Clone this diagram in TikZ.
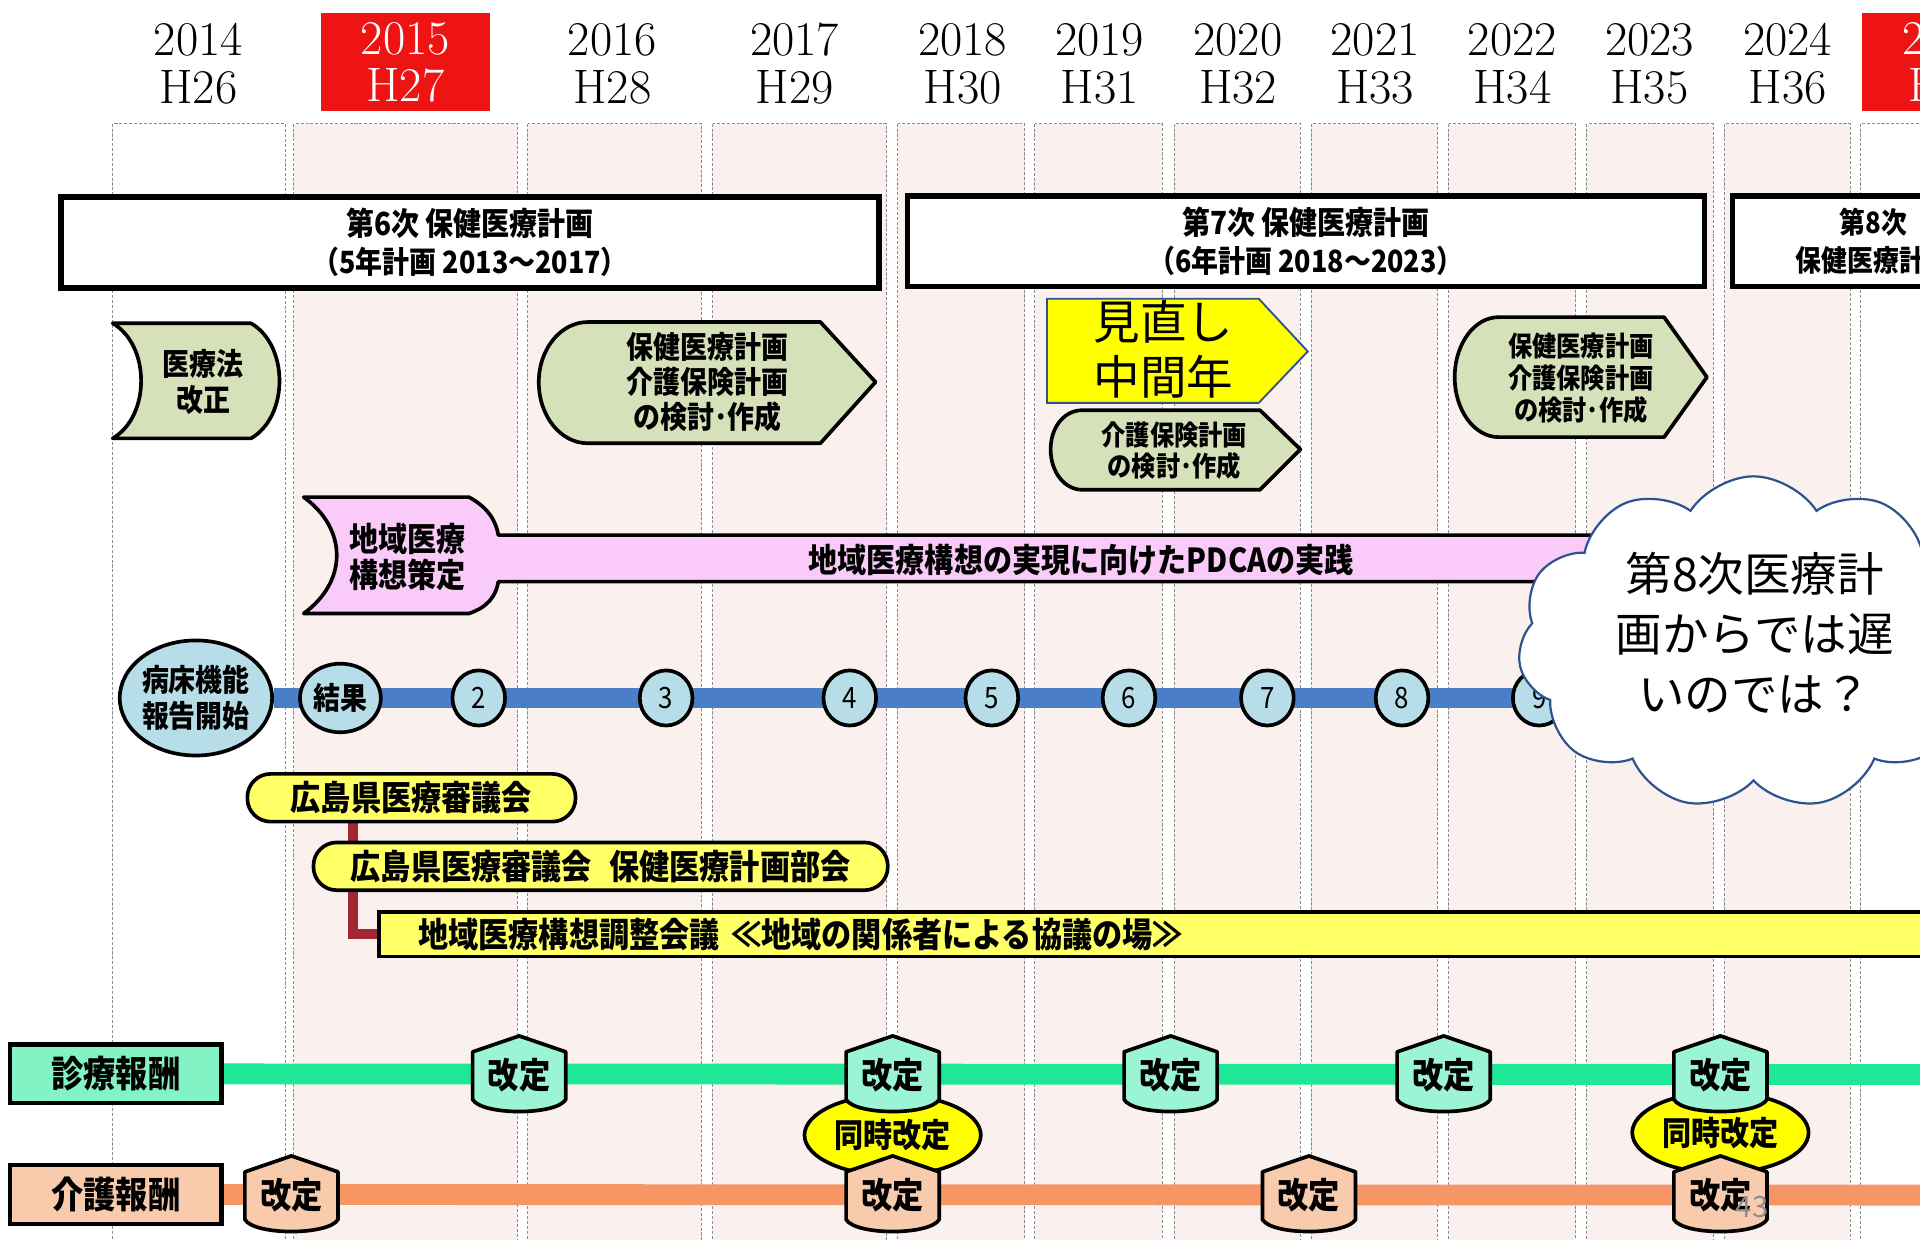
\documentclass[tikz,border=0pt]{standalone}
\usepackage{fontspec}
\usetikzlibrary{shapes.symbols,shapes.geometric,calc}
\newfontfamily\jpb{Noto Sans CJK JP}[FakeStretch=0.88]
\newfontfamily\jpr{Noto Sans CJK JP}
\newcommand\Bf[2]{\jpb\bfseries\fontsize{#1}{#2}\selectfont}
\newcommand\Rf[2]{\jpb\fontsize{#1}{#2}\selectfont}
\newcommand\Nf[2]{\jpr\fontsize{#1}{#2}\selectfont}
\definecolor{colpink}{RGB}{250,241,239}
\definecolor{hdrred}{RGB}{238,20,20}
\definecolor{olivelt}{RGB}{214,225,186}
\definecolor{pinklt}{RGB}{250,202,248}
\definecolor{circblue}{RGB}{183,222,232}
\definecolor{barblue}{RGB}{74,126,198}
\definecolor{meety}{RGB}{255,255,102}
\definecolor{pureY}{RGB}{255,255,0}
\definecolor{edgeblue}{RGB}{47,82,143}
\definecolor{maroonl}{RGB}{160,40,50}
\definecolor{labgreen}{RGB}{130,243,197}
\definecolor{kgreen}{RGB}{155,244,212}
\definecolor{lgreen}{RGB}{30,232,150}
\definecolor{peach}{RGB}{248,203,173}
\definecolor{lorange}{RGB}{246,150,100}
\pgfdeclarelayer{back}
\pgfdeclarelayer{lines}
\pgfsetlayers{back,lines,main}
\tikzset{
  col/.style={draw=black!45, dash pattern=on 2.5pt off 1.5pt, line width=0.8pt},
  yr/.style={font=\fontsize{39.5}{39}\selectfont, align=center, inner sep=0pt},
  yrbox/.style={yr, fill=hdrred, text=white, minimum width=138pt, minimum height=80pt},
  plan/.style={rectangle, draw=black, line width=4.5pt, fill=white, inner sep=0pt, align=center, font=\Bf{26}{31}},
  shp/.style={draw=black, line width=3pt, line join=round},
  tx/.style={inner sep=0pt, align=center},
  circ/.style={ellipse, draw=black, line width=3pt, fill=circblue, inner sep=0pt, align=center},
  meet/.style={rectangle, rounded corners=19pt, draw=black, line width=3pt, fill=meety, inner sep=0pt},
  lab/.style={rectangle, draw=black, line width=3.5pt, minimum width=173pt, minimum height=48pt, inner sep=0pt, font=\Bf{30}{30}},
  bline/.style={draw=barblue, line width=16pt},
  gline/.style={draw=lgreen, line width=17pt},
  oline/.style={draw=lorange, line width=17pt},
  mline/.style={draw=maroonl, line width=8pt}
}
\newcommand\kaitei[4]{%
  \begin{scope}[shift={(#1,#2)}]
    \filldraw[shp, fill=#3] (-38,-19) -- (0,-32) -- (38,-19) -- (38,20) .. controls (30,33) and (-30,33) .. (-38,20) -- cycle;
  \end{scope}
  \node[tx, font=\Bf{29}{30}] (#4) at (#1,#2) {改定};}
\begin{document}
\begin{tikzpicture}[x=1pt,y=-1pt]
\useasboundingbox (0,0) rectangle (1568,1012);
\begin{pgfonlayer}{back}
\fill[white] (0,0) rectangle (1568,1012);
\foreach \a/\b/\c in {92/233/white,240/423/colpink,431/573/colpink,582/724/colpink,733/837/colpink,845/949/colpink,959/1062/colpink,1071/1174/colpink,1183/1287/colpink,1296/1399/colpink,1408/1511/colpink,1519/1640/white}
  \filldraw[col, fill=\c] (\a,101) rectangle (\b,1030);
\end{pgfonlayer}
\clip (0,0) rectangle (1568,1012);
% year headers
\foreach \x/\y/\h in {162/2014/H26,500/2016/H28,649/2017/H29,786/2018/H30,898/2019/H31,1011/2020/H32,1123/2021/H33,1235/2022/H34,1347/2023/H35,1460/2024/H36}
  \node[yr] (yr\y) at (\x,52) {\y\\\h};
\node[yrbox] (yr2015) at (331,51) {2015\\H27};
\node[yrbox] (yr2025) at (1590,51) {2025\\H37};
% plan boxes
\node[plan, minimum width=668pt, minimum height=74pt] (p6) at (384,198) {第6次 保健医療計画\\\fontsize{25}{31}\selectfont（5年計画 2013～2017）};
\node[plan, minimum width=651pt, minimum height=74pt] (p7) at (1066.5,197) {第7次 保健医療計画\\\fontsize{25}{31}\selectfont（6年計画 2018～2023）};
\node[plan, minimum width=230pt, minimum height=74pt, font=\Bf{24}{31}] (p8) at (1530,197) {第8次\\保健医療計画};
% green shapes
\filldraw[shp, fill=olivelt] (92,264) -- (205,264) .. controls (236,282) and (236,340) .. (205,358) -- (92,358) .. controls (123,340) and (123,282) .. (92,264) -- cycle;
\node[tx, font=\Bf{25}{29}] (iryoho) at (166,312) {医療法\\改正};
\filldraw[shp, fill=olivelt] (480,263) -- (670,263) -- (715,312) -- (670,362) -- (480,362) .. controls (458,362) and (440,340) .. (440,312) .. controls (440,285) and (458,263) .. (480,263) -- cycle;
\node[tx, font=\Bf{25}{28.5}] (kk1) at (578,312) {保健医療計画\\介護保険計画\\の検討･作成};
\filldraw[shp, fill=olivelt] (1224,259) -- (1359,259) -- (1394,308) -- (1359,357) -- (1224,357) .. controls (1204,357) and (1188,335) .. (1188,308) .. controls (1188,281) and (1204,259) .. (1224,259) -- cycle;
\node[tx, font=\Bf{22.5}{26}] (kk2) at (1291,309) {保健医療計画\\介護保険計画\\の検討･作成};
\filldraw[shp, fill=olivelt] (884,335) -- (1029,335) -- (1062,367) -- (1029,400) -- (884,400) .. controls (869,400) and (858,385) .. (858,367) .. controls (858,349) and (869,335) .. (884,335) -- cycle;
\node[tx, font=\Bf{22.5}{25.5}] (kk3) at (959,368) {介護保険計画\\の検討･作成};
% midterm review
\filldraw[fill=pureY, draw=edgeblue, line width=1.5pt] (855,244) -- (1028,244) -- (1068,287) -- (1028,329) -- (855,329) -- cycle;
\node[tx, font=\Nf{38}{45}] (minaoshi) at (950,285) {見直し\\中間年};
% pink regional plan
\filldraw[shp, fill=pinklt] (248,406) -- (383,406) .. controls (398,414) and (405,425) .. (407,437) -- (1340,437) -- (1340,475) -- (407,475) .. controls (405,487) and (398,496) .. (383,501) -- (248,501) .. controls (284,475) and (284,432) .. (248,406) -- cycle;
\node[tx, font=\Bf{27}{29.5}] (chiiki) at (333,455) {地域医療\\構想策定};
\node[tx, font=\Bf{27}{27}] (pdca) at (883,457) {地域医療構想の実現に向けたPDCAの実践};
% bed function reports
\node[circ, minimum width=124pt, minimum height=94pt, font=\Bf{25}{29}] (byo) at (160,570) {病床機能\\報告開始};
\node[circ, minimum width=66pt, minimum height=56pt, font=\Bf{25}{25}] (kekka) at (278,570) {結果};
\foreach \x/\n in {391/2,544/3,694/4,810/5,922/6,1035/7,1145/8,1257/9}
  \node[circ, minimum width=43pt, minimum height=45pt, font=\Rf{24}{24}] (c\n) at (\x,570) {\n};
\coordinate (bend) at (1330,570);
% councils
\node[meet, minimum width=268pt, minimum height=39pt, font=\Bf{28}{28}] (shingi) at (336,651.5) {広島県医療審議会};
\node[meet, minimum width=469pt, minimum height=39pt, font=\Bf{28}{28}] (bukai) at (490.5,707.5) {広島県医療審議会\hspace{0.5em}保健医療計画部会};
\node[rectangle, draw=black, line width=3pt, fill=meety, anchor=west, minimum height=36pt, inner ysep=0pt, inner xsep=32pt, text width=1368pt, align=left, font=\Bf{28}{28}] (chosei) at (308,763) {地域医療構想調整会議 ≪地域の関係者による協議の場≫};
% fee revisions
\node[lab, fill=labgreen] (shin) at (94.5,877) {診療報酬};
\node[lab, fill=peach] (kaigo) at (94.5,975.5) {介護報酬};
\coordinate (gend) at (1580,877.5);
\coordinate (oend) at (1580,976);
\node[ellipse, draw=black, line width=3pt, fill=pureY, minimum width=144pt, minimum height=66pt, inner sep=0pt, font=\Bf{27}{27}] (doji1) at (729,927) {同時改定};
\node[ellipse, draw=black, line width=3pt, fill=pureY, minimum width=144pt, minimum height=66pt, inner sep=0pt, font=\Bf{27}{27}] (doji2) at (1405,925) {同時改定};
\kaitei{424}{878}{kgreen}{sk1}
\kaitei{729}{878}{kgreen}{sk2}
\kaitei{956}{878}{kgreen}{sk3}
\kaitei{1179}{878}{kgreen}{sk4}
\kaitei{1405}{878}{kgreen}{sk5}
\kaitei{238}{976}{peach}{kk1b}
\kaitei{729}{976}{peach}{kk2b}
\kaitei{1069}{976}{peach}{kk3b}
\kaitei{1405}{976}{peach}{kk4b}
% connectors (behind)
\begin{pgfonlayer}{lines}
\draw[bline] (byo) -- (bend);
\draw[mline] ($(shingi.south west)+(88,0)$) |- (chosei.west);
\draw[gline] (shin.east) -- (gend);
\draw[oline] (kaigo.east) -- (oend);
\end{pgfonlayer}
% cloud
\node[cloud, draw=edgeblue, line width=1.8pt, fill=white, cloud puffs=11, cloud puff arc=115, aspect=1.45, minimum width=385pt, minimum height=272pt, inner sep=0pt] (cloud) at (1432,525) {};
\node[tx, font=\Nf{38}{49}] (cloudtxt) at (1433,517) {第8次医療計\\画からでは遅\\いのでは？};
\node[tx, text=black!45, font=\Nf{24}{24}] (pg) at (1431,986) {43};
\end{tikzpicture}
\end{document}
